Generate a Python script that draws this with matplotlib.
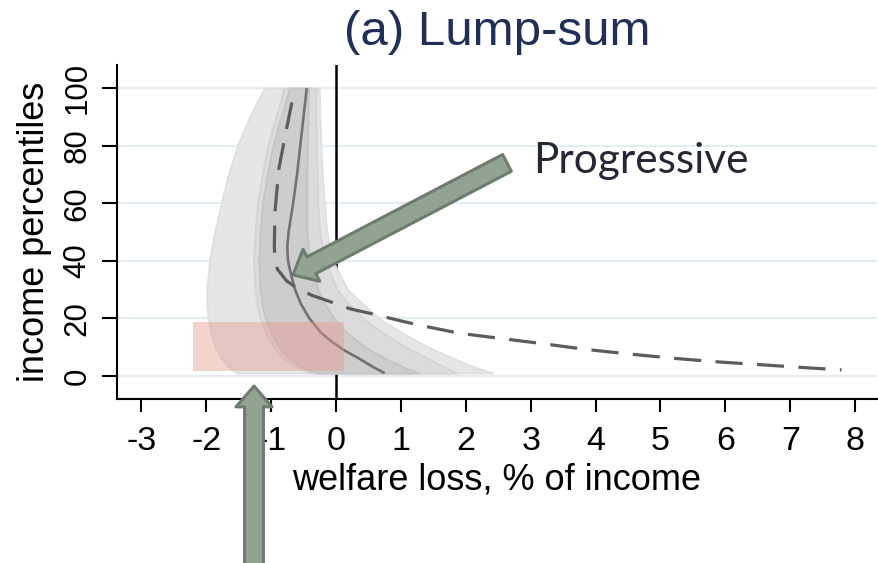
import matplotlib
matplotlib.use("Agg")
import matplotlib.pyplot as plt

# ---------------- data ----------------
x_ticks = [-3, -2, -1, 0, 1, 2, 3, 4, 5, 6, 7, 8]
y_ticks = [0, 20, 40, 60, 80, 100]

band_y = [100, 95, 90, 80, 70, 60, 50, 40, 30, 25, 20, 15, 10, 6, 3, 1]
outer_left = [-1.10, -1.22, -1.33, -1.52, -1.66, -1.77, -1.87, -1.95, -1.99, -1.99,
              -1.97, -1.93, -1.86, -1.76, -1.65, -1.52]
outer_right = [-0.26, -0.25, -0.25, -0.23, -0.21, -0.18, -0.14, -0.05, 0.18, 0.42,
               0.66, 1.02, 1.42, 1.82, 2.15, 2.42]
mid_left = [-0.80, -0.86, -0.93, -1.05, -1.14, -1.21, -1.25, -1.27, -1.25, -1.22,
            -1.17, -1.08, -0.96, -0.80, -0.60, -0.38]
mid_right = [-0.30, -0.31, -0.31, -0.30, -0.29, -0.28, -0.25, -0.17, 0.02, 0.20,
             0.42, 0.72, 1.08, 1.42, 1.68, 1.86]
inner_left = [-0.72, -0.78, -0.85, -0.97, -1.06, -1.13, -1.17, -1.19, -1.17, -1.14,
              -1.09, -1.00, -0.88, -0.72, -0.52, -0.30]
inner_right = [-0.42, -0.43, -0.43, -0.44, -0.45, -0.45, -0.45, -0.40, -0.28, -0.17,
               -0.03, 0.17, 0.45, 0.77, 1.05, 1.29]

solid_y = [100, 90, 80, 70, 60, 50, 45, 40, 35, 30, 25, 20, 15, 12, 9, 6, 3, 1]
solid_x = [-0.45, -0.50, -0.55, -0.60, -0.66, -0.73, -0.75, -0.74, -0.69, -0.63,
           -0.54, -0.41, -0.23, -0.07, 0.12, 0.36, 0.58, 0.75]

dashed_y = [95, 86, 72, 57, 45, 40, 37, 33, 30.5, 28, 25.5, 23.3, 21.2, 19.4, 17.7,
            16.2, 14.8, 13.0, 11.2, 9.2, 7.6, 6.2, 5.0, 4.0, 3.0, 2.1]
dashed_x = [-0.68, -0.76, -0.88, -0.94, -0.95, -0.94, -0.90, -0.76, -0.60, -0.37,
            -0.05, 0.22, 0.63, 0.95, 1.27, 1.60, 1.91, 2.55, 3.19, 3.86, 4.53,
            5.17, 5.81, 6.48, 7.15, 7.79]

rect_x = [-2.2, 0.12]
rect_y = [1.7, 18.7]

title = "(a) Lump-sum"
xlabel = "welfare loss, % of income"
ylabel = "income percentiles"
note = "Progressive"

# ---------------- figure ----------------
W, H = 879, 563
fig = plt.figure(figsize=(W / 100, H / 100), dpi=100)
ax = fig.add_axes([117 / W, 1 - 399 / H, 760 / W, 334 / H])
ax.set_xlim(-3.374, 8.336)
ax.set_ylim(-8, 108)

sans = ["Liberation Sans", "DejaVu Sans"]

ax.set_yticks(y_ticks)
ax.set_xticks(x_ticks)
ax.set_yticklabels([str(v) for v in y_ticks], rotation=90, va="center",
                   fontsize=22.5, family=sans)
ax.set_xticklabels([str(v) for v in x_ticks], fontsize=24.5, family=sans)
ax.tick_params(axis="x", length=9.5, width=1.5, pad=10, direction="out")
ax.tick_params(axis="y", length=10.5, width=1.5, pad=7, direction="out")

for s in ["top", "right"]:
    ax.spines[s].set_visible(False)
for s in ["left", "bottom"]:
    ax.spines[s].set_linewidth(1.5)

ax.grid(axis="y", color="#e4edef", linewidth=1.6, zorder=0.5)
ax.set_axisbelow(True)

ax.axvline(0, color="black", linewidth=1.8, zorder=1)

ax.fill_betweenx(band_y, outer_left, outer_right, color="#e6e6e6",
                 edgecolor="#dedede", linewidth=1.2, zorder=2)
ax.fill_betweenx(band_y, mid_left, mid_right, color="#dbdbdb",
                 edgecolor="#d3d3d3", linewidth=1.2, zorder=2.1)
ax.fill_betweenx(band_y, inner_left, inner_right, color="#cdcdcd",
                 edgecolor="#c4c4c4", linewidth=1.2, zorder=2.2)

ax.plot(solid_x, solid_y, color="#727272", linewidth=1.9, zorder=3,
        solid_capstyle="butt")
ax.plot(dashed_x, dashed_y, color="#5c5c5c", linewidth=2.3, zorder=3.1,
        linestyle=(0, (8.5, 4.5)))

ax.fill_between(rect_x, rect_y[0], rect_y[1], color="#e8968a", alpha=0.42,
                linewidth=0, zorder=4)

arrow_style = "simple,head_length=0.75,head_width=1.3,tail_width=0.68"
arrow_props = dict(arrowstyle=arrow_style, mutation_scale=20, fc="#92a394",
                   ec="#6c7c6e", lw=2.2, shrinkA=0, shrinkB=0)
ax.annotate("", xy=(-0.663, 35.1), xytext=(2.635, 74.0), xycoords="data",
            arrowprops=arrow_props, annotation_clip=False, zorder=5)
ax.annotate("", xy=(-1.263, -3.5), xytext=(-1.263, -69.0), xycoords="data",
            arrowprops=arrow_props, annotation_clip=False, zorder=5)

ax.text(3.04, 70.5, note, fontsize=30.5, family=["Lato", "DejaVu Sans"],
        color="#262636", ha="left", va="baseline", zorder=6)

ax.set_xlabel(xlabel, fontsize=26, family=sans)
ax.xaxis.set_label_coords(0.5, -0.19)
ax.set_ylabel(ylabel, fontsize=26, family=sans)
ax.yaxis.set_label_coords(-0.108, 0.5)
ax.yaxis.label.set_verticalalignment("center")

fig.text(497 / W, 1 - 45 / H, title, fontsize=35.5, family=sans,
         color="#1f2f57", ha="center", va="baseline")

fig.savefig("out.png", dpi=100)
